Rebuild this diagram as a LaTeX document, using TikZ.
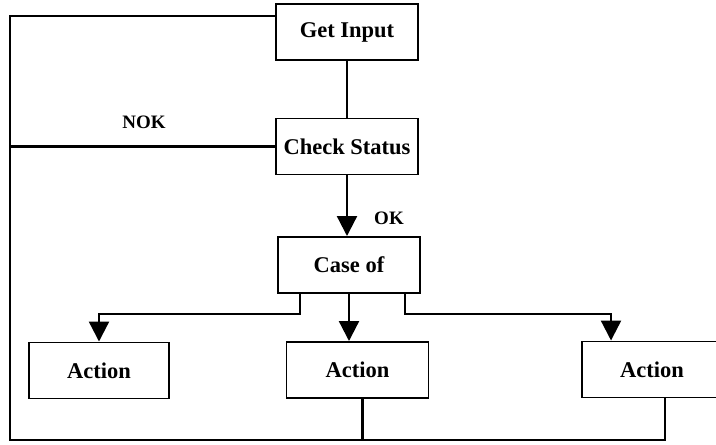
\documentclass[tikz,border=0pt]{standalone}
\usepackage{fontspec}
\setmainfont{Liberation Serif}
\usetikzlibrary{arrows.meta,calc}
\tikzstyle{block} = [rectangle, draw=black, line width=1.4pt, minimum width=3.55cm, minimum height=1.4cm, inner sep=0pt, font=\fontsize{16}{19}\selectfont\bfseries]
\tikzstyle{wire} = [line width=1.6pt]
\tikzstyle{arrow} = [wire, -{Triangle[length=5mm,width=5mm]}]
\tikzstyle{tag} = [font=\fontsize{13.5}{16}\selectfont\bfseries]

\begin{document}
\begin{tikzpicture}[x=0.25mm, y=-0.25mm]
    \useasboundingbox (0,0) rectangle (716,444);
    \node [block] (get) at (347,32) {Get Input};
    \node [block] (check) at (347,146.5) {Check Status};
    \node [block] (case) at (349,265) {Case of};
    \node [block, minimum width=3.48cm] (act1) at (99,370.5) {Action};
    \node [block] (act2) at (357.5,370) {Action};
    \node [block, minimum width=3.5cm] (act3) at (652,369.5) {Action};
    \node [tag] (nok) at (144,122) {NOK};
    \node [tag] (ok) at (389,218) {OK};

    \draw [wire] (get.south) -- (check.north);
    \draw [arrow] (check.south) -- (check.south |- case.north);
    \draw [arrow] (case.south) -- (case.south |- act2.north);
    \draw [arrow] ($(case.south west)+(23,0)$) -- ++(0,20) -| (act1.north);
    \draw [arrow] ($(case.south east)-(16,0)$) -- ++(0,20) -| ($(act3.north west)+(30,0)$);

    % loop back to the input
    \coordinate (corner) at (10,440);
    \draw [wire] ($(act2.south)+(5,0)$) |- (corner) |- ($(get.north west)+(0,13)$);
    \draw [wire] ($(act3.south)+(13,0)$) |- (corner);
    \draw [wire] (check.west) -- (check.west -| corner);
\end{tikzpicture}
\end{document}
